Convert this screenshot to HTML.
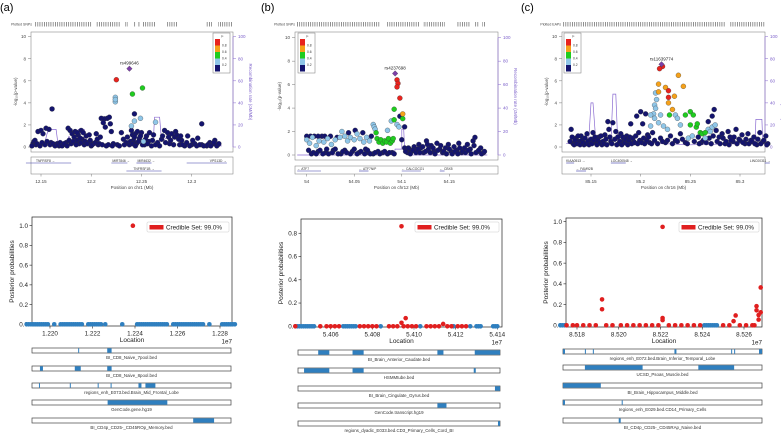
<!DOCTYPE html>
<html><head><meta charset="utf-8"><style>
html,body{margin:0;padding:0;background:#fff;}
svg{display:block;font-family:"Liberation Sans",sans-serif;}
</style></head><body>
<svg id="fig" width="781" height="434" viewBox="0 0 781 434" xmlns="http://www.w3.org/2000/svg"></svg>
<script>
// ---------- Locus data (Mb, -log10 p) ----------
const aLead=[[12.238,7.1]];
const aRed=[[12.225,6.1]];
const aOrange=[];
const aGreen=[[12.241,4.8],[12.251,5.35]];
const aLight=[[12.224,4.5],[12.224,4.1],[12.224,4.3],[12.249,2.6],[12.243,2.35],[12.240,1.9],[12.264,2.25],[12.252,0.5]];
const aNavy=[[12.161,3.45],[12.31,2.1],[12.243,3.0],[12.21,2.6],[12.213,2.55],[12.216,2.6],[12.218,2.7],[12.212,2.2],[12.219,2.1],[12.214,1.8],[12.22,1.4],[12.142,0.3],[12.143,0.5],[12.145,0.2],[12.147,1.4],[12.15,1.5],[12.152,1.2],[12.155,1.7],[12.158,1.6],[12.16,0.4],[12.163,0.2],[12.166,0.3],[12.168,0.1],[12.17,0.3],[12.172,0.2],[12.175,0.4],[12.177,1.7],[12.179,1.5],[12.181,1.2],[12.183,0.9],[12.184,1.4],[12.186,0.6],[12.187,1.1],[12.188,0.3],[12.19,1.5],[12.191,0.7],[12.193,0.2],[12.195,1.0],[12.197,0.4],[12.2,0.1],[12.202,0.3],[12.205,1.2],[12.207,0.2],[12.209,0.9],[12.222,0.3],[12.226,0.2],[12.23,1.3],[12.232,0.7],[12.235,0.4],[12.238,0.2],[12.24,1.5],[12.241,1.1],[12.242,0.6],[12.244,1.2],[12.245,0.3],[12.246,1.4],[12.248,0.8],[12.25,1.3],[12.253,0.2],[12.255,1.0],[12.257,0.5],[12.26,0.1],[12.262,1.1],[12.266,0.4],[12.27,0.7],[12.273,1.5],[12.276,1.3],[12.278,0.3],[12.28,1.2],[12.283,0.9],[12.285,1.1],[12.288,0.2],[12.29,0.6],[12.293,0.1],[12.296,1.0],[12.3,0.2],[12.303,0.3],[12.306,0.8],[12.31,0.2],[12.315,0.1],[12.318,0.4],[12.321,0.3],[12.323,0.6],[12.326,0.2],
 [12.141,0.1],[12.144,0.6],[12.146,0.3],[12.149,0.1],[12.151,0.4],[12.154,0.2],[12.156,0.5],[12.159,0.2],[12.162,0.3],[12.164,0.1],[12.167,0.2],[12.169,0.4],[12.171,0.1],[12.173,0.3],[12.176,0.1],[12.178,0.6],[12.18,0.3],[12.182,0.5],[12.185,0.2],[12.186,1.3],[12.189,0.8],[12.19,0.4],[12.192,1.3],[12.194,0.5],[12.196,0.3],[12.198,1.1],[12.199,0.6],[12.201,0.2],[12.204,0.4],[12.206,0.7],[12.208,0.3],[12.211,0.2],[12.215,0.1],[12.217,0.2],[12.221,0.1],[12.228,0.1],[12.233,0.2],[12.236,0.9],[12.239,0.5],[12.241,0.3],[12.243,0.9],[12.244,0.1],[12.247,0.5],[12.249,1.0],[12.251,0.2],[12.254,0.7],[12.256,0.3],[12.258,1.3],[12.261,0.6],[12.264,0.2],[12.268,0.1],[12.271,1.0],[12.274,0.4],[12.277,0.9],[12.279,0.6],[12.282,0.2],[12.284,1.4],[12.287,0.7],[12.289,1.0],[12.291,0.2],[12.295,0.4],[12.298,0.1],[12.301,0.6],[12.305,0.1],[12.308,0.2],[12.312,0.1],[12.316,0.2],[12.319,0.1],[12.322,0.4],[12.325,0.1],[12.327,0.3]];
const aRecX=[12.14,12.153,12.156,12.158,12.165,12.167,12.175,12.178,12.179,12.185,12.187,12.193,12.196,12.2,12.205,12.245,12.25,12.262,12.263,12.268,12.27,12.28,12.29,12.3,12.33];
const aRecY=[1,1,12,16,16,2,2,10,2,2,16,16,2,2,1,1,5,8,27,27,5,12,3,1,1];

const bLead=[[54.093,6.95]];
const bRed=[[54.095,6.4],[54.096,6.1],[54.095,5.8],[54.098,4.85]];
const bOrange=[[54.101,3.5]];
const bGreen=[[54.092,3.9],[54.092,3.0],[54.101,3.1],[54.073,1.9],[54.074,1.4],[54.076,1.1],[54.078,1.3],[54.08,1.0],[54.082,1.2],[54.084,1.1],[54.086,1.4],[54.088,1.0],[54.09,1.2],[54.091,1.4]];
const bLight=[[54.0,1.3],[54.003,1.0],[54.006,1.5],[54.01,0.8],[54.013,1.2],[54.018,1.1],[54.022,1.4],[54.026,0.9],[54.03,1.3],[54.035,1.5],[54.037,2.0],[54.04,1.6],[54.043,1.2],[54.046,1.5],[54.05,1.3],[54.053,1.8],[54.056,1.4],[54.06,1.1],[54.063,1.5],[54.066,1.2],[54.07,2.6],[54.071,2.4],[54.072,2.2],[54.085,2.1],[54.089,2.9],[54.095,2.6],[54.097,2.4]];
const bNavy=[[54.0,1.6],[54.005,0.1],[54.008,1.6],[54.012,0.3],[54.016,1.6],[54.02,0.2],[54.025,1.6],[54.028,0.4],[54.032,1.5],[54.036,0.1],[54.04,0.4],[54.044,1.9],[54.048,0.3],[54.051,2.1],[54.055,0.2],[54.059,1.9],[54.062,0.5],[54.065,0.2],[54.068,1.6],[54.07,0.1],[54.075,0.3],[54.08,0.2],[54.085,0.1],[54.09,0.2],[54.098,3.3],[54.103,2.4],[54.1,1.3],[54.103,0.6],[54.106,0.2],[54.108,0.5],[54.11,0.3],[54.113,0.7],[54.116,0.4],[54.118,0.9],[54.12,0.6],[54.123,0.2],[54.126,1.2],[54.128,0.5],[54.131,0.8],[54.134,0.3],[54.137,1.0],[54.14,0.5],[54.143,0.2],[54.146,0.6],[54.149,0.9],[54.152,0.3],[54.155,0.7],[54.158,0.4],[54.16,1.0],[54.163,0.2],[54.166,0.6],[54.169,0.9],[54.172,0.5],[54.175,1.2],[54.177,1.5],[54.18,0.3],[54.183,0.6],[54.186,0.2],
 [54.002,0.4],[54.004,1.6],[54.007,0.2],[54.01,0.1],[54.012,1.6],[54.014,0.4],[54.017,0.1],[54.019,1.6],[54.021,0.5],[54.023,0.1],[54.027,0.2],[54.03,0.5],[54.033,0.1],[54.038,0.3],[54.042,0.2],[54.046,0.1],[54.05,0.5],[54.053,0.1],[54.057,0.3],[54.061,0.1],[54.064,0.4],[54.067,0.1],[54.072,0.2],[54.077,0.1],[54.082,0.3],[54.087,0.2],[54.092,0.1],[54.104,0.3],[54.107,0.6],[54.109,0.1],[54.112,0.4],[54.115,0.2],[54.117,0.5],[54.119,0.2],[54.122,0.7],[54.125,0.3],[54.127,0.9],[54.13,0.2],[54.133,0.6],[54.135,0.1],[54.138,0.4],[54.141,0.8],[54.144,0.3],[54.147,0.1],[54.15,0.5],[54.153,0.1],[54.156,0.3],[54.159,0.1],[54.161,0.6],[54.164,0.3],[54.167,0.2],[54.17,0.4],[54.173,0.1],[54.176,0.8],[54.178,0.2],[54.181,0.4],[54.184,0.1],[54.187,0.3]];
const bRecX=[53.99,54.08,54.092,54.093,54.1,54.1,54.102,54.103,54.105,54.11,54.19];
const bRecY=[0,0,1,5,5,22,22,5,1,0,0];

const cLead=[[85.221,7.5]];
const cRed=[[85.222,7.3],[85.219,7.1],[85.228,5.1],[85.228,4.5]];
const cOrange=[[85.218,5.7],[85.225,5.4],[85.238,6.5],[85.243,5.5],[85.234,4.6],[85.228,4.0],[85.232,3.4],[85.218,5.0]];
const cGreen=[[85.229,2.9],[85.245,2.9],[85.25,3.2],[85.253,2.9],[85.25,2.0],[85.256,1.8],[85.257,2.1],[85.26,1.3],[85.262,1.2],[85.265,1.3]];
const cLight=[[85.215,4.9],[85.216,4.3],[85.214,3.8],[85.215,3.5],[85.213,3.0],[85.214,2.6],[85.21,2.9],[85.21,1.9],[85.218,2.2],[85.22,2.9],[85.223,1.9],[85.227,1.6],[85.235,2.9],[85.237,2.6],[85.24,2.0],[85.248,0.8],[85.252,1.0],[85.268,1.6],[85.272,1.8],[85.275,2.0],[85.27,1.4],[85.265,0.8]];
const cNavy=[[85.13,1.6],[85.132,0.3],[85.135,0.8],[85.138,0.5],[85.14,1.0],[85.143,0.2],[85.146,1.2],[85.149,0.6],[85.152,1.3],[85.155,0.4],[85.158,0.9],[85.161,0.2],[85.164,1.1],[85.167,2.3],[85.168,1.6],[85.17,0.5],[85.172,2.2],[85.175,1.4],[85.178,0.3],[85.18,1.2],[85.183,0.6],[85.186,1.0],[85.19,2.1],[85.193,0.5],[85.196,2.8],[85.198,1.3],[85.2,3.2],[85.202,2.1],[85.205,3.0],[85.207,1.1],[85.209,0.4],[85.212,1.3],[85.22,0.8],[85.225,0.4],[85.23,1.0],[85.235,0.6],[85.24,1.2],[85.245,0.4],[85.258,0.9],[85.261,0.4],[85.268,2.3],[85.272,2.8],[85.274,3.4],[85.276,1.5],[85.279,0.9],[85.282,1.2],[85.285,0.3],[85.288,1.4],[85.29,0.9],[85.293,0.5],[85.296,1.6],[85.299,0.7],[85.302,1.1],[85.305,0.3],[85.308,1.2],[85.311,0.6],[85.314,0.9],[85.317,0.2],[85.32,1.3],[85.323,0.5],[85.326,1.0],[85.328,0.3],
 [85.129,0.5],[85.131,0.9],[85.133,0.2],[85.134,0.6],[85.136,0.3],[85.137,1.0],[85.139,0.2],[85.141,0.6],[85.142,0.4],[85.144,0.8],[85.145,0.3],[85.147,0.5],[85.148,0.2],[85.15,0.7],[85.151,0.3],[85.153,0.6],[85.154,0.9],[85.156,0.2],[85.157,0.6],[85.159,0.4],[85.16,1.0],[85.162,0.5],[85.163,0.3],[85.165,0.7],[85.166,0.2],[85.169,0.9],[85.171,0.3],[85.174,0.7],[85.176,0.2],[85.177,0.9],[85.179,0.5],[85.181,0.2],[85.182,0.9],[85.184,0.4],[85.185,0.7],[85.187,0.2],[85.188,0.6],[85.189,0.9],[85.191,0.3],[85.192,0.8],[85.194,0.4],[85.195,1.0],[85.197,0.3],[85.199,0.6],[85.201,0.4],[85.203,0.8],[85.204,0.3],[85.206,0.6],[85.208,0.9],[85.211,0.3],[85.214,0.6],[85.217,0.3],[85.222,0.5],[85.227,0.6],[85.232,0.3],[85.237,0.5],[85.242,0.7],[85.247,0.3],[85.254,0.5],[85.259,0.3],[85.263,0.6],[85.266,0.4],[85.269,0.8],[85.271,0.3],[85.273,1.0],[85.277,0.5],[85.28,0.3],[85.283,0.8],[85.286,0.5],[85.289,0.2],[85.291,0.6],[85.294,0.9],[85.297,0.3],[85.3,0.6],[85.303,0.4],[85.306,0.7],[85.309,0.3],[85.312,0.5],[85.315,0.3],[85.318,0.7],[85.321,0.3],[85.324,0.6],[85.327,0.2]];
const cRecX=[85.125,85.145,85.148,85.15,85.152,85.155,85.17,85.172,85.175,85.177,85.2,85.25,85.3,85.315,85.316,85.322,85.323,85.33];
const cRecY=[3,3,10,40,40,3,3,48,48,3,4,2,3,3,25,25,3,3];

// ---------- Posterior (fine-mapping) data ----------
const aPostRedX=[1.2239];const aPostRedY=[1.0];
const aPostBlueX=[1.2189,1.2190,1.2191,1.2192,1.2193,1.2194,1.2195,1.2196,1.2197,1.2198,1.2199,1.2202,1.2205,1.2206,1.2207,1.2208,1.2209,1.2210,1.2211,1.2212,1.2213,1.2214,1.2215,1.2218,1.2219,1.2220,1.2221,1.2222,1.2223,1.2224,1.2226,1.2234,1.2241,1.2242,1.2243,1.2244,1.2245,1.2246,1.2247,1.2248,1.2249,1.2250,1.2251,1.2252,1.2253,1.2254,1.2255,1.2258,1.2259,1.2260,1.2261,1.2262,1.2263,1.2264,1.2265,1.2266,1.2267,1.2268,1.2269,1.2270,1.2271,1.2272,1.2275,1.2281,1.2282,1.2283,1.2284,1.2285,1.2286,1.2287];
const bPostRedX=[5.4094,5.4096,5.4094,5.4114,5.4043,5.4055,5.4058,5.4060,5.4062,5.4064,5.4074,5.4076,5.4078,5.4080,5.4082,5.4088,5.4090,5.4092,5.4095,5.4097,5.4099,5.4101,5.4106,5.4108,5.4110,5.4112,5.4116,5.4118,5.4121,5.4123,5.4125];
const bPostRedY=[0.86,0.07,0.03,0.02,0,0,0,0,0,0,0,0,0,0,0,0,0,0,0,0,0,0,0,0,0,0,0,0,0,0,0];
const bPostBlueX=[5.4044,5.4045,5.4046,5.4047,5.4048,5.4049,5.4050,5.4051,5.4052,5.4066,5.4067,5.4068,5.4069,5.4070,5.4071,5.4072,5.4084,5.4103,5.4119,5.4127,5.4130,5.4131,5.4132,5.4138,5.4139,5.4140];
const cPostRedX=[8.5192,8.5192,8.5221,8.5221,8.5221,8.5255,8.5256,8.5266,8.5266,8.5267,8.5267,8.5268,8.5268,8.5175,8.5178,8.5180,8.5183,8.5186,8.5189,8.5194,8.5197,8.5201,8.5204,8.5207,8.5210,8.5213,8.5216,8.5219,8.5224,8.5227,8.5230,8.5233,8.5236,8.5239,8.5250,8.5253,8.5258,8.5261,8.5264,8.5265];
const cPostRedY=[0.25,0.155,0.95,0.07,0.05,0.04,0.095,0.185,0.145,0.1,0.055,0.365,0.125,0,0,0,0,0,0,0,0,0,0,0,0,0,0,0,0,0,0,0,0,0,0,0,0,0,0,0];
const cPostBlueX=[8.5172,8.5173,8.5174,8.5241,8.5242,8.5243,8.5244,8.5245,8.5246,8.5247];

// ---------- Annotation tracks (fraction of width) ----------
const aTracks=[[[0.232,0.237],[0.378,0.4]],[[0.04,0.055],[0.215,0.245],[0.378,0.4]],[[0.035,0.04],[0.19,0.195],[0.33,0.335],[0.395,0.4],[0.535,0.55],[0.57,0.62]],[[0.38,0.68]],[[0.81,0.915]]];
const aTrackNames=["BI_CD8_Naive_7pool.bed","BI_CD8_Naive_8pool.bed","regions_enh_E073.bed.Brain_Mid_Frontal_Lobe","GenCode.gene.hg19","BI_CD4p_CD25-_CD45ROp_Memory.bed"];
const bTracks=[[[0.1,0.155],[0.27,0.325],[0.69,0.72],[0.875,1]],[[0.03,0.155],[0.27,0.325],[0.87,0.88]],[[0.975,1]],[[0.69,0.735]],[[0.99,1]]];
const bTrackNames=["BI_Brain_Anterior_Caudate.bed","HSMMtube.bed","BI_Brain_Cingulate_Gyrus.bed","GenCode.transcript.hg19","regions_dyadic_E033.bed.CD3_Primary_Cells_Cord_BI"];
const cTracks=[[[0,0.01],[0.11,0.115],[0.15,0.155],[0.56,0.57],[0.845,0.85],[0.86,0.865],[0.985,1]],[[0.11,0.4],[0.68,0.86]],[[0,0.19]],[[0,0.01],[0.295,0.3]],[[0.28,0.29]]];
const cTrackNames=["regions_enh_E072.bed.Brain_Inferior_Temporal_Lobe","UCSD_Psoas_Muscle.bed","BI_Brain_Hippocampus_Middle.bed","regions_enh_E029.bed.CD14_Primary_Cells","BI_CD4p_CD25-_CD45RAp_Naive.bed"];

const aXTicks=[12.15,12.2,12.25,12.3], aXLabels=["12.15","12.2","12.25","12.3"];
const bXTicks=[54,54.05,54.1,54.15], bXLabels=["54","54.05","54.1","54.15"];
const cXTicks=[85.15,85.2,85.25,85.3], cXLabels=["85.15","85.2","85.25","85.3"];
const aPTicks=[1.220,1.222,1.224,1.226,1.228], bPTicks=[5.406,5.408,5.410,5.412,5.414], cPTicks=[8.518,8.520,8.522,8.524,8.526];
const aYTicks=[0,0.2,0.4,0.6,0.8,1.0], bYTicks=[0,0.2,0.4,0.6,0.8], cYTicks=[0,0.2,0.4,0.6,0.8,1.0];

const NS="http://www.w3.org/2000/svg";
const svg=document.getElementById('fig');
function mk(tag,attrs,parent,txt){const e=document.createElementNS(NS,tag);for(const k in attrs)e.setAttribute(k,attrs[k]);if(txt!==undefined)e.textContent=txt;(parent||svg).appendChild(e);return e;}

function locus(P){
  const g=mk('g',{});
  
  
  const xs=v=>P.x0px+(v-P.xt0)*(P.x1px-P.x0px)/(P.xt1-P.xt0);
  const ys=v=>P.y0+(P.y10-P.y0)*v/10;
  const t=mk('text',{x:P.lab,y:11,'font-size':11},g,'('+P.id+')');
  
  mk('text',{x:P.stripX-2,y:25.5,'font-size':3.5,fill:'#444','text-anchor':'end'},g,P.snpLabel);
  for(const s of P.strip){mk('rect',{x:s[0],y:22,width:s[1]-s[0],height:4.5,fill:'url(#hatch)'},g);}
  const box=mk('rect',{x:P.bx0,y:P.by0,width:P.bx1-P.bx0,height:P.by1-P.by0,fill:'none',stroke:'#777','stroke-width':0.5},g);
  
  for(let v=0;v<=10;v+=2){mk('line',{x1:P.bx0-3,x2:P.bx0,y1:ys(v),y2:ys(v),stroke:'#777','stroke-width':0.5},g);
    mk('text',{x:P.bx0-5,y:ys(v)+1.5,'font-size':4.5,'text-anchor':'end',fill:'#444'},g,v);
    mk('line',{x1:P.bx1,x2:P.bx1+3,y1:ys(v),y2:ys(v),stroke:'#8a6bd1','stroke-width':0.5},g);
    mk('text',{x:P.bx1+5,y:ys(v)+1.5,'font-size':4.5,fill:'#7b5fc9'},g,v*10);}
  mk('line',{x1:P.bx1,x2:P.bx1,y1:ys(10),y2:ys(0),stroke:'#8a6bd1','stroke-width':0.6},g);
  mk('text',{x:0,y:0,'font-size':4.5,fill:'#444','text-anchor':'middle',transform:`translate(${P.bx0-14},${ys(5)}) rotate(-90)`},g,'-log\u2081\u2080(p-value)');
  mk('text',{x:0,y:0,'font-size':4.5,fill:'#7b5fc9','text-anchor':'middle',transform:`translate(${P.bx1+16},${ys(5)}) rotate(90)`},g,'Recombination rate (cM/Mb)');
  let d='';P.recX.forEach((x,i)=>{d+=(i?'L':'M')+xs(x).toFixed(1)+','+ys(P.recY[i]/10).toFixed(1);});
  const rl=mk('path',{d:d,fill:'none',stroke:'#8a6bd1','stroke-width':0.7},g);
  
  const groups=[[P.navy,'#14146e','navy'],[P.light,'#8fc6e8','lightblue'],[P.green,'#1fcc1f','green'],[P.orange,'#f5a11a','orange'],[P.red,'#e8231e','red']];
  for(const [arr,col,nm] of groups){for(const p of arr){const c=mk('circle',{cx:xs(p[0]),cy:ys(p[1]),r:2.5,fill:col,stroke:'#333','stroke-width':0.3},g);
    }}
  for(const p of P.lead){const cx=xs(p[0]),cy=ys(p[1]);
    const dm=mk('polygon',{points:`${cx},${cy-2.8} ${cx+2.8},${cy} ${cx},${cy+2.8} ${cx-2.8},${cy}`,fill:'#7b3fa8',stroke:'#333','stroke-width':0.3},g);
    
    mk('text',{x:cx,y:cy-4,'font-size':4.5,'text-anchor':'middle',fill:'#222'},g,P.leadName);}
  const lg=mk('g',{},g);
  mk('rect',{x:P.lgx,y:33,width:17,height:40,fill:'#fff',stroke:'#777','stroke-width':0.5},lg);
  mk('text',{x:P.lgx+8,y:37.5,'font-size':3.5,fill:'#333'},lg,'r\u00b2');
  const lc=['#e8231e','#f5a11a','#1fcc1f','#8fc6e8','#14146e'];const ll=['0.8','0.6','0.4','0.2'];
  lc.forEach((c,i)=>mk('rect',{x:P.lgx+2,y:39+i*6.5,width:5,height:6.5,fill:c},lg));
  ll.forEach((l,i)=>mk('text',{x:P.lgx+9,y:46.5+i*6.5,'font-size':3.3,fill:'#333'},lg,l));
  const gp=mk('rect',{x:P.bx0,y:P.gy0,width:P.bx1-P.bx0,height:P.gy1-P.gy0,fill:'none',stroke:'#777','stroke-width':0.5},g);
  
  for(const gn of P.genes){mk('line',{x1:xs(gn[0]),x2:xs(gn[1]),y1:gn[2],y2:gn[2],stroke:'#3a3aa8','stroke-width':0.6},g);
    mk('text',{x:xs(gn[3]),y:gn[2]-1.2,'font-size':3.3,fill:'#333'},g,gn[4]);}
  P.ticks.forEach((v,i)=>{mk('line',{x1:xs(v),x2:xs(v),y1:P.gy1,y2:P.gy1+2.5,stroke:'#777','stroke-width':0.5},g);
    mk('text',{x:xs(v),y:P.gy1+9,'font-size':4.5,'text-anchor':'middle',fill:'#444'},g,P.tickLabels[i]);});
  mk('text',{x:(P.bx0+P.bx1)/2,y:P.gy1+15,'font-size':4.5,'text-anchor':'middle',fill:'#444'},g,P.xtitle);
}

function post(P){
  const g=mk('g',{});
  const xs=v=>P.x0px+(v-P.xt0)*(P.x1px-P.x0px)/(P.xt1-P.xt0);
  const ys=v=>P.y0+(P.y1v-P.y0)*v;
  const ax=mk('rect',{x:P.ax0,y:P.ay0,width:P.ax1-P.ax0,height:P.ay1-P.ay0,fill:'none',stroke:'#222','stroke-width':0.7},g);
  
  P.yticks.forEach(v=>{mk('line',{x1:P.ax0-2.5,x2:P.ax0,y1:ys(v),y2:ys(v),stroke:'#222','stroke-width':0.6},g);
    mk('text',{x:P.ax0-4,y:ys(v)+2.2,'font-size':6.3,'text-anchor':'end',fill:'#222'},g,v.toFixed(1));});
  P.xticks.forEach(v=>{mk('line',{x1:xs(v),x2:xs(v),y1:P.ay1,y2:P.ay1+2.5,stroke:'#222','stroke-width':0.6},g);
    mk('text',{x:xs(v),y:P.ay1+9.5,'font-size':6.3,'text-anchor':'middle',fill:'#222'},g,v.toFixed(3));});
  mk('text',{x:P.ax1,y:P.ay1+17.5,'font-size':6.3,'text-anchor':'end',fill:'#222'},g,'1e7');
  mk('text',{x:(P.ax0+P.ax1)/2,y:P.ay1+16,'font-size':6.5,'text-anchor':'middle',fill:'#222'},g,'Location');
  mk('text',{x:0,y:0,'font-size':6.5,'text-anchor':'middle',fill:'#222',transform:`translate(${P.ax0-18},${(P.ay0+P.ay1)/2}) rotate(-90)`},g,'Posterior probabilities');
  for(const x of P.blueX){const c=mk('circle',{cx:xs(x),cy:ys(0),r:2.3,fill:'#2f7fbf'},g);}
  P.redX.forEach((x,i)=>{const c=mk('circle',{cx:xs(x),cy:ys(P.redY[i]),r:2.3,fill:'#e01f1f'},g);});
  const lg=mk('g',{},g);
  mk('rect',{x:P.lgx,y:P.lgy,width:P.ax1-P.lgx-3,height:10,fill:'#fff',stroke:'#ccc','stroke-width':0.5,rx:1},lg);
  mk('rect',{x:P.lgx+2.5,y:P.lgy+3,width:14,height:4.5,fill:'#e01f1f'},lg);
  mk('text',{x:P.lgx+19,y:P.lgy+7.3,'font-size':6.3,fill:'#222'},lg,'Credible Set: 99.0%');
  P.tracks.forEach((tr,i)=>{const y=P.ty[i];const w=P.tx1-P.tx0;
    const tg=mk('g',{},g);
    mk('rect',{x:P.tx0,y:y,width:w,height:5,fill:'#fff',stroke:'#444','stroke-width':0.7},tg);
    for(const s of tr)mk('rect',{x:P.tx0+s[0]*w,y:y+0.3,width:Math.max(1,(s[1]-s[0])*w),height:4.4,fill:'#2f7fbf'},tg);
    mk('text',{x:(P.tx0+P.tx1)/2,y:y+11,'font-size':4.4,'text-anchor':'middle',fill:'#333'},tg,P.names[i]);});
}

const defs=mk('defs',{});
const pat=mk('pattern',{id:'hatch',width:2.2,height:5,patternUnits:'userSpaceOnUse'},defs);
mk('rect',{x:0,y:0,width:0.7,height:5,fill:'#666'},pat);

locus({id:'a',lab:0,snpLabel:'Plotted SNPs',stripX:34,strip:[[34,92],[96,120],[125,128],[133,136],[138,140],[142,156],[166,178],[206,212],[218,232]],
  bx0:31,bx1:233,by0:32,by1:152,y0:147,y10:36.7,x0px:41,x1px:191.7,xt0:12.15,xt1:12.3,gy0:157,gy1:174,ticks:aXTicks,tickLabels:aXLabels,
  xtitle:'Position on chr1 (Mb)',lgx:213,lead:aLead,leadName:'rs499646',red:aRed,orange:aOrange,green:aGreen,light:aLight,navy:aNavy,recX:aRecX,recY:aRecY,
  genes:[[12.135,12.18,163,12.145,'TNFRSF8 \u2192'],[12.22,12.236,163,12.221,'MIR7846 \u2192'],[12.245,12.26,163,12.246,'MIR4632 \u2192'],[12.235,12.27,171,12.242,'TNFRSF1B \u2192'],[12.295,12.335,163,12.318,'VPS13D \u2192']]});
locus({id:'b',lab:261,snpLabel:'Plotted SNPs',stripX:297,strip:[[297,380],[387,420],[423,445],[457,470],[474,479],[482,486]],
  bx0:295,bx1:498,by0:32,by1:160,y0:155,y10:37.7,x0px:306.7,x1px:449.3,xt0:54,xt1:54.15,gy0:166,gy1:174,ticks:bXTicks,tickLabels:bXLabels,
  xtitle:'Position on chr12 (Mb)',lgx:298,lead:bLead,leadName:'rs4237698',red:bRed,orange:bOrange,green:bGreen,light:bLight,navy:bNavy,recX:bRecX,recY:bRecY,
  genes:[[53.99,54.015,171,53.99,'\u2190 ATF7'],[54.055,54.065,171,54.055,'\u2190 ATF7NIP'],[54.1,54.12,171,54.1,'\u2190 CALCOCO1'],[54.14,54.145,171,54.14,'\u2190 CBX5']]});
locus({id:'c',lab:521,snpLabel:'Plotted EAPs',stripX:563,strip:[[563,725],[730,765]],
  bx0:562,bx1:765,by0:32,by1:152,y0:147,y10:36.7,x0px:591,x1px:740,xt0:85.15,xt1:85.3,gy0:157,gy1:174,ticks:cXTicks,tickLabels:cXLabels,
  xtitle:'Position on chr16 (Mb)',lgx:564,lead:cLead,leadName:'rs11639774',red:cRed,orange:cOrange,green:cGreen,light:cLight,navy:cNavy,recX:cRecX,recY:cRecY,
  genes:[[85.125,85.133,163,85.125,'KIAA0513 \u2192'],[85.135,85.145,171,85.135,'\u2190 FAM92B'],[85.17,85.185,163,85.17,'LOC400548 \u2192'],[85.325,85.33,163,85.31,'LINC00311 \u2192']]});

post({id:'a',ax0:32,ax1:232,ay0:217,ay1:326,y0:324.3,y1v:225.7,x0px:50,x1px:220,xt0:1.220,xt1:1.228,xticks:aPTicks,yticks:aYTicks,
  redX:aPostRedX,redY:aPostRedY,blueX:aPostBlueX,lgx:147,lgy:222,tracks:aTracks,names:aTrackNames,tx0:32,tx1:231,ty:[348,366,383,400,418]});
post({id:'b',ax0:301,ax1:502,ay0:219,ay1:327,y0:326.3,y1v:210,x0px:330.7,x1px:497.3,xt0:5.406,xt1:5.414,xticks:bPTicks,yticks:bYTicks,
  redX:bPostRedX,redY:bPostRedY,blueX:bPostBlueX,lgx:415,lgy:222,tracks:bTracks,names:bTrackNames,tx0:298,tx1:500,ty:[350,368,386,403,421]});
post({id:'c',ax0:566,ax1:762,ay0:218,ay1:327,y0:325.3,y1v:221.7,x0px:577,x1px:744,xt0:8.518,xt1:8.526,xticks:cPTicks,yticks:cYTicks,
  redX:cPostRedX,redY:cPostRedY,blueX:cPostBlueX,lgx:679,lgy:222,tracks:cTracks,names:cTrackNames,tx0:563,tx1:762,ty:[349,365,383,400,418]});
</script>
</body></html>
